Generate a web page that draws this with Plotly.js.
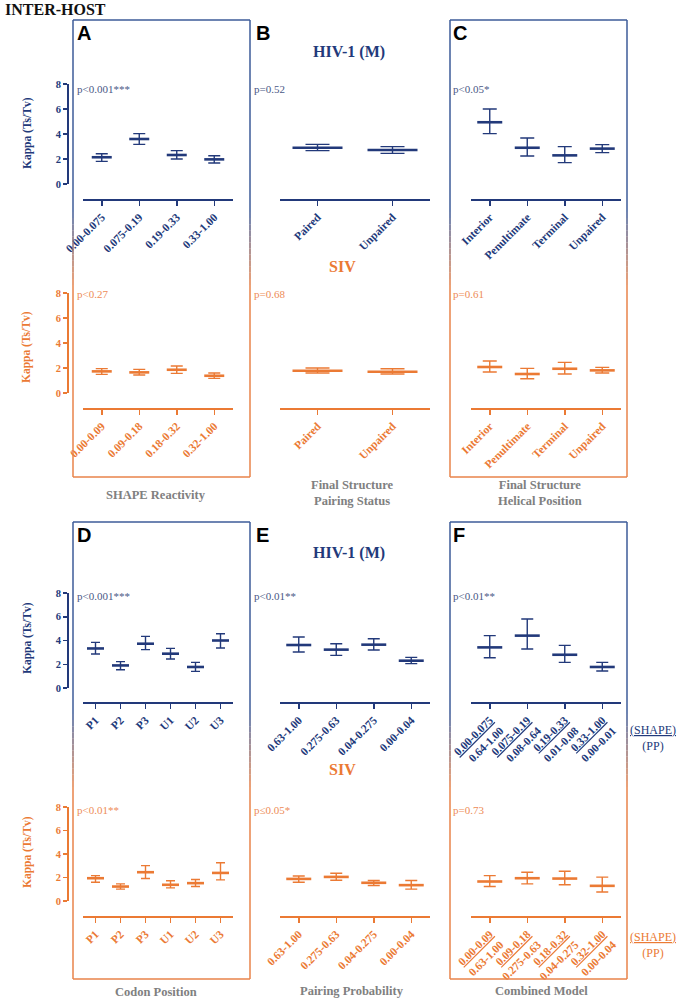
<!DOCTYPE html>
<html>
<head>
<meta charset="utf-8">
<script src="https://cdn.plot.ly/plotly-3.0.1.min.js"></script>
<style>html,body{margin:0;padding:0;background:#fff}</style>
</head>
<body>
<div id="chart" style="width:680px;height:1002px"></div>
<script>
// ---- data (kappa Ts/Tv, mean with 95% CI) ----
const shapeBinsHiv = ['0.00-0.075', '0.075-0.19', '0.19-0.33', '0.33-1.00'];
const shapeBinsSiv = ['0.00-0.09', '0.09-0.18', '0.18-0.32', '0.32-1.00'];
const shapeHivMean = [2.14, 3.60, 2.32, 1.97];
const shapeHivHi = [2.42, 4.03, 2.67, 2.26];
const shapeHivLo = [1.81, 3.17, 2.00, 1.68];
const shapeSivMean = [1.73, 1.65, 1.86, 1.38];
const shapeSivHi = [1.95, 1.89, 2.16, 1.60];
const shapeSivLo = [1.49, 1.44, 1.57, 1.17];

const pairingStatus = ['Paired', 'Unpaired'];
const pairHivMean = [2.90, 2.72];
const pairHivHi = [3.17, 2.99];
const pairHivLo = [2.67, 2.45];
const pairSivMean = [1.78, 1.70];
const pairSivHi = [2.00, 1.94];
const pairSivLo = [1.60, 1.52];

const helixPositions = ['Interior', 'Penultimate', 'Terminal', 'Unpaired'];
const helixHivMean = [4.94, 2.90, 2.29, 2.83];
const helixHivHi = [6.00, 3.68, 2.99, 3.15];
const helixHivLo = [4.03, 2.24, 1.71, 2.51];
const helixSivMean = [2.08, 1.52, 1.94, 1.81];
const helixSivHi = [2.56, 1.97, 2.45, 2.05];
const helixSivLo = [1.68, 1.14, 1.52, 1.60];

const codonPositions = ['P1', 'P2', 'P3', 'U1', 'U2', 'U3'];
const codonHivMean = [3.33, 1.90, 3.73, 2.89, 1.77, 4.00];
const codonHivHi = [3.84, 2.22, 4.35, 3.34, 2.16, 4.57];
const codonHivLo = [2.86, 1.54, 3.23, 2.44, 1.40, 3.37];
const codonSivMean = [1.94, 1.23, 2.45, 1.38, 1.52, 2.39];
const codonSivHi = [2.16, 1.46, 3.01, 1.72, 1.83, 3.26];
const codonSivLo = [1.60, 1.01, 1.91, 1.12, 1.23, 1.80];

const ppBins = ['0.63-1.00', '0.275-0.63', '0.04-0.275', '0.00-0.04'];
const ppHivMean = [3.62, 3.23, 3.65, 2.30];
const ppHivHi = [4.30, 3.73, 4.15, 2.58];
const ppHivLo = [3.03, 2.75, 3.20, 2.05];
const ppSivMean = [1.88, 2.05, 1.55, 1.35];
const ppSivHi = [2.13, 2.36, 1.74, 1.74];
const ppSivLo = [1.60, 1.77, 1.32, 1.01];

const combPpHiv = ['0.64-1.00', '0.08-0.64', '0.01-0.08', '0.00-0.01'];
const combPpSiv = ['0.63-1.00', '0.275-0.63', '0.04-0.275', '0.00-0.04'];
const combHivMean = [3.42, 4.41, 2.80, 1.77];
const combHivHi = [4.41, 5.81, 3.59, 2.16];
const combHivLo = [2.55, 3.28, 2.16, 1.43];
const combSivMean = [1.66, 1.94, 1.91, 1.29];
const combSivHi = [2.16, 2.45, 2.53, 2.03];
const combSivLo = [1.23, 1.46, 1.38, 0.76];

const pHiv = ['p<0.001***', 'p=0.52', 'p<0.05*', 'p<0.001***', 'p<0.01**', 'p<0.01**'];
const pSiv = ['p<0.27', 'p=0.68', 'p=0.61', 'p<0.01**', 'p\u22640.05*', 'p=0.73'];

// ---- look ----
const W = 680, H = 1002;
const NAVY = '#22397a';
const NAVY_TXT = '#4a5886';
const ORANGE = '#eb7a34';
const ORANGE_TXT = '#ee8c57';
const FRAME_BLUE = '#3d5b99';
const FRAME_ORANGE = '#e8834a';
const GREY = '#808080';
const SERIF = '"Liberation Serif", "Times New Roman", serif';
const SANS = '"Liberation Sans", Arial, sans-serif';

const px = v => v / W;
const py = v => 1 - v / H;

// rows: pixel positions of y=8, y=0 and the x axis line
const rows = {
  topHiv: { y8: 84, y0: 184, ax: 200 },
  topSiv: { y8: 293, y0: 393, ax: 409 },
  botHiv: { y8: 593, y0: 688, ax: 703 },
  botSiv: { y8: 807, y0: 901, ax: 917 }
};
const cols = [[83, 233], [280, 430], [471, 621]];

const traces = [];
const layout = {
  width: W, height: H,
  margin: { l: 0, r: 0, t: 0, b: 0 },
  paper_bgcolor: '#fff', plot_bgcolor: 'rgba(0,0,0,0)',
  showlegend: false,
  shapes: [], annotations: []
};

// line-ew marker is drawn 1.4x its size long
const meanLen = len => len / 1.4;

let axisCount = 0;
function addPanel(cfg) {
  axisCount++;
  const sfx = axisCount > 1 ? axisCount : '';
  const row = rows[cfg.row];
  const col = cols[cfg.col];
  const hi = cfg.hi, lo = cfg.lo, mean = cfg.mean;

  traces.push({
    type: 'scatter', mode: 'markers',
    x: cfg.cats, y: mean,
    xaxis: 'x' + sfx, yaxis: 'y' + sfx,
    marker: { symbol: 'line-ew', size: meanLen(cfg.markLen), line: { width: 2.6, color: cfg.color } },
    error_y: {
      type: 'data', symmetric: false,
      array: hi.map((h, i) => h - mean[i]),
      arrayminus: lo.map((l, i) => mean[i] - l),
      color: cfg.color, thickness: 1.4, width: cfg.capW
    },
    cliponaxis: false, hoverinfo: 'skip'
  });

  const xa = {
    domain: [px(col[0]), px(col[1])],
    anchor: 'free', position: py(row.ax),
    type: 'category', categoryorder: 'array', categoryarray: cfg.cats,
    range: [-0.5, cfg.cats.length - 0.5],
    showline: true, linecolor: cfg.color, linewidth: 2,
    ticks: 'outside', ticklen: 5, tickwidth: 1.5, tickcolor: cfg.color,
    tickangle: -45,
    tickfont: { family: SERIF, size: 11.5, color: cfg.color, weight: 'bold' },
    showgrid: false, zeroline: false, fixedrange: true
  };
  if (cfg.labels) {
    xa.tickmode = 'array';
    xa.tickvals = cfg.cats;
    xa.ticktext = cfg.labels;
  }
  layout['xaxis' + sfx] = xa;

  layout['yaxis' + sfx] = {
    domain: [py(row.y0), py(row.y8)],
    range: [0, 8],
    anchor: 'free', position: px(68),
    visible: cfg.col === 0,
    showline: true, linecolor: cfg.color, linewidth: 2,
    ticks: 'outside', ticklen: 4, tickwidth: 1.5, tickcolor: cfg.color,
    tickmode: 'array', tickvals: [0, 2, 4, 6, 8],
    tickfont: { family: SERIF, size: 10.5, color: cfg.color, weight: 'bold' },
    showgrid: false, zeroline: false, fixedrange: true
  };
}

// combined model labels: SHAPE bin (underlined) over pairing-probability bin
const combLabels = (shape, pp) => shape.map((s, i) => '<u>' + s + '</u><br>' + pp[i]);

// top row
addPanel({ row: 'topHiv', col: 0, cats: shapeBinsHiv, mean: shapeHivMean, hi: shapeHivHi, lo: shapeHivLo, color: NAVY, markLen: 20, capW: 6 });
addPanel({ row: 'topHiv', col: 1, cats: pairingStatus, mean: pairHivMean, hi: pairHivHi, lo: pairHivLo, color: NAVY, markLen: 50, capW: 12 });
addPanel({ row: 'topHiv', col: 2, cats: helixPositions, mean: helixHivMean, hi: helixHivHi, lo: helixHivLo, color: NAVY, markLen: 25, capW: 7 });
addPanel({ row: 'topSiv', col: 0, cats: shapeBinsSiv, mean: shapeSivMean, hi: shapeSivHi, lo: shapeSivLo, color: ORANGE, markLen: 20, capW: 6 });
addPanel({ row: 'topSiv', col: 1, cats: pairingStatus, mean: pairSivMean, hi: pairSivHi, lo: pairSivLo, color: ORANGE, markLen: 50, capW: 12 });
addPanel({ row: 'topSiv', col: 2, cats: helixPositions, mean: helixSivMean, hi: helixSivHi, lo: helixSivLo, color: ORANGE, markLen: 25, capW: 7 });
// bottom row
addPanel({ row: 'botHiv', col: 0, cats: codonPositions, mean: codonHivMean, hi: codonHivHi, lo: codonHivLo, color: NAVY, markLen: 17, capW: 4.5 });
addPanel({ row: 'botHiv', col: 1, cats: ppBins, mean: ppHivMean, hi: ppHivHi, lo: ppHivLo, color: NAVY, markLen: 25, capW: 6 });
addPanel({ row: 'botHiv', col: 2, cats: shapeBinsHiv, labels: combLabels(shapeBinsHiv, combPpHiv), mean: combHivMean, hi: combHivHi, lo: combHivLo, color: NAVY, markLen: 25, capW: 6 });
addPanel({ row: 'botSiv', col: 0, cats: codonPositions, mean: codonSivMean, hi: codonSivHi, lo: codonSivLo, color: ORANGE, markLen: 17, capW: 4.5 });
addPanel({ row: 'botSiv', col: 1, cats: ppBins, mean: ppSivMean, hi: ppSivHi, lo: ppSivLo, color: ORANGE, markLen: 25, capW: 6 });
addPanel({ row: 'botSiv', col: 2, cats: shapeBinsSiv, labels: combLabels(shapeBinsSiv, combPpSiv), mean: combSivMean, hi: combSivHi, lo: combSivLo, color: ORANGE, markLen: 25, capW: 6 });

// ---- frames: blue on top fading to orange at the bottom ----
function mix(a, b, t) {
  const pa = [1, 3, 5].map(i => parseInt(a.substr(i, 2), 16));
  const pb = [1, 3, 5].map(i => parseInt(b.substr(i, 2), 16));
  return 'rgb(' + pa.map((v, i) => Math.round(v + (pb[i] - v) * t)).join(',') + ')';
}
function frame(x0, x1, y0, y1) {
  const line = (a, b, c, d, color) => layout.shapes.push({
    type: 'line', xref: 'paper', yref: 'paper',
    x0: px(a), y0: py(b), x1: px(c), y1: py(d),
    line: { color: color, width: 1.5 }
  });
  line(x0, y0, x1, y0, FRAME_BLUE);
  line(x0, y1, x1, y1, FRAME_ORANGE);
  const t0 = y0 + (y1 - y0) * 0.42, t1 = y0 + (y1 - y0) * 0.58;
  [x0, x1].forEach(x => {
    line(x, y0, x, t0, FRAME_BLUE);
    const n = 12;
    for (let i = 0; i < n; i++) {
      const a = t0 + (t1 - t0) * i / n, b = t0 + (t1 - t0) * (i + 1) / n;
      line(x, a, x, b, mix(FRAME_BLUE, FRAME_ORANGE, (i + 0.5) / n));
    }
    line(x, t1, x, y1, FRAME_ORANGE);
  });
}
frame(73, 250, 20, 477);
frame(450, 627, 20, 477);
frame(73, 250, 522, 979);
frame(450, 627, 522, 979);

// ---- texts ----
function ann(text, x, y, opts) {
  layout.annotations.push(Object.assign({
    text: text, xref: 'paper', yref: 'paper', x: px(x), y: py(y),
    showarrow: false, xanchor: 'center', yanchor: 'middle',
    font: { family: SERIF, size: 11, color: '#000' }
  }, opts));
}

ann('INTER-HOST', 3, 9, { xanchor: 'left', font: { family: SERIF, size: 16, color: '#111', weight: 'bold' } });

const letterX = [75, 254, 451];
['A', 'B', 'C'].forEach((l, i) => ann(l, letterX[i], 33, { xanchor: 'left', font: { family: SANS, size: 20, color: '#000', weight: 'bold' } }));
['D', 'E', 'F'].forEach((l, i) => ann(l, letterX[i], 535, { xanchor: 'left', font: { family: SANS, size: 20, color: '#000', weight: 'bold' } }));

ann('HIV-1 (M)', 349, 52, { font: { family: SERIF, size: 16, color: NAVY, weight: 'bold' } });
ann('SIV', 342, 266, { font: { family: SERIF, size: 16, color: ORANGE, weight: 'bold' } });
ann('HIV-1 (M)', 349, 553, { font: { family: SERIF, size: 16, color: NAVY, weight: 'bold' } });
ann('SIV', 342, 769, { font: { family: SERIF, size: 16, color: ORANGE, weight: 'bold' } });

const pX = [75, 252, 451];
pHiv.forEach((p, i) => ann(p, pX[i % 3], i < 3 ? 89 : 596, { xanchor: 'left', font: { family: SERIF, size: 11, color: NAVY_TXT } }));
pSiv.forEach((p, i) => ann(p, pX[i % 3], i < 3 ? 294 : 810, { xanchor: 'left', font: { family: SERIF, size: 11, color: ORANGE_TXT } }));

[[133, NAVY], [347, ORANGE], [638, NAVY], [852, ORANGE]].forEach(([y, c]) =>
  ann('Kappa (Ts/Tv)', 27, y, { textangle: -90, font: { family: SERIF, size: 11.5, color: c, weight: 'bold' } }));

const gfont = { family: SERIF, size: 12.5, color: GREY, weight: 'bold' };
ann('SHAPE Reactivity', 156, 495, { font: gfont });
ann('Final Structure<br>Pairing Status', 352, 493, { font: gfont });
ann('Final Structure<br>Helical Position', 540, 493, { font: gfont });
ann('Codon Position', 156, 992, { font: gfont });
ann('Pairing Probability', 352, 991, { font: gfont });
ann('Combined Model', 541, 991, { font: gfont });

ann('<u>(SHAPE)</u><br>(PP)', 653, 738, { font: { family: SERIF, size: 12, color: NAVY } });
ann('<u>(SHAPE)</u><br>(PP)', 653, 945, { font: { family: SERIF, size: 12, color: ORANGE } });

Plotly.newPlot('chart', traces, layout, { staticPlot: true, displayModeBar: false });
</script>
</body>
</html>
